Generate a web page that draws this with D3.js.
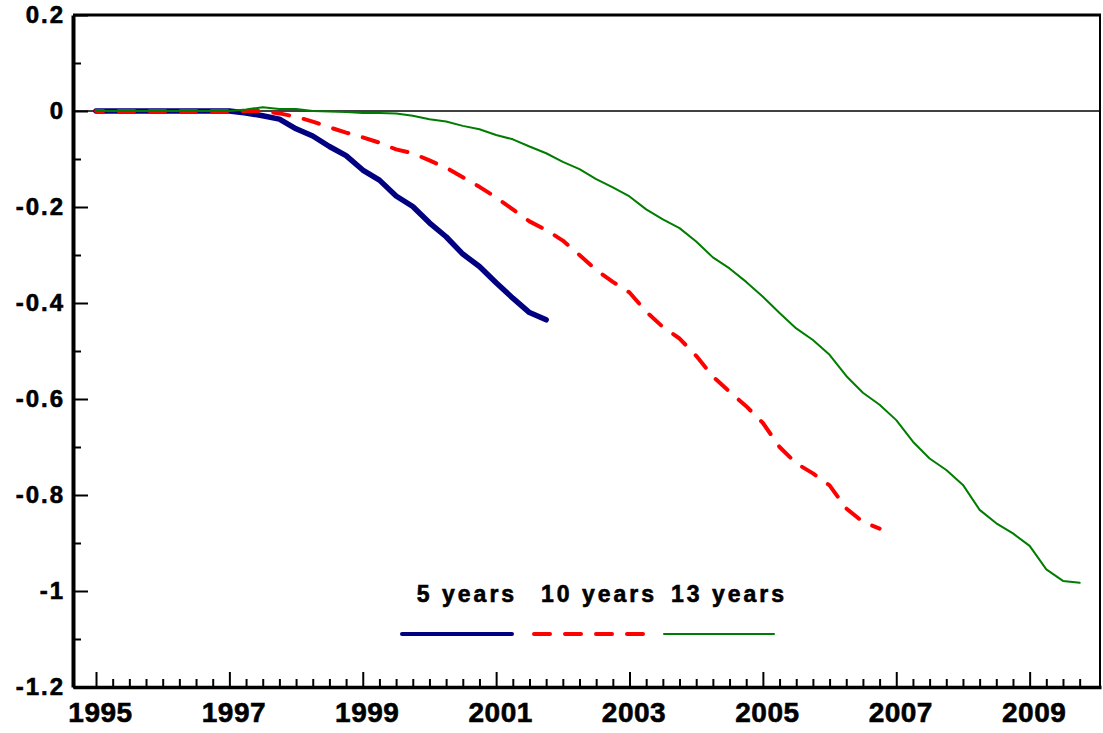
<!DOCTYPE html>
<html>
<head>
<meta charset="utf-8">
<script src="https://cdn.jsdelivr.net/npm/d3@7"></script>
<style>
  body { margin: 0; background: #fff; }
  text { font-family: Arial, "Liberation Sans", sans-serif; font-weight: bold; fill: #000; stroke: #000; stroke-width: 0.6px; }
</style>
</head>
<body>
<script>
// quarterly values, all series start at 1995.0
let startYear = 1995;
let seriesNames = ["5 years", "10 years", "13 years"];
let seriesColors = ["#000080", "#ff0000", "#007d00"];

let fiveYears = [
  0, 0, 0, 0, 0, 0, 0, 0, 0,
  -0.004, -0.01, -0.017, -0.037, -0.052, -0.074, -0.093, -0.123, -0.144, -0.177,
  -0.199, -0.233, -0.262, -0.298, -0.324, -0.358, -0.39, -0.42, -0.435
];
let tenYears = [
  0, 0, 0, 0, 0, 0, 0, 0, 0, 0, 0,
  -0.005, -0.012, -0.022, -0.034, -0.045, -0.055, -0.066, -0.08, -0.088,
  -0.103, -0.118, -0.138, -0.158, -0.18, -0.205, -0.23, -0.248, -0.27, -0.3,
  -0.331, -0.356, -0.378, -0.418, -0.45, -0.474, -0.51, -0.553, -0.585, -0.615,
  -0.65, -0.7, -0.734, -0.755, -0.78, -0.828, -0.856, -0.87
];
let thirteenYears = [
  0, 0, 0, 0, 0, 0, 0, 0, 0,
  0.003, 0.008, 0.004, 0.004, 0, -0.001, -0.002, -0.004, -0.004, -0.005, -0.01,
  -0.017, -0.022, -0.031, -0.038, -0.05, -0.059, -0.074, -0.088, -0.106, -0.121,
  -0.142, -0.159, -0.178, -0.205, -0.226, -0.244, -0.272, -0.305, -0.328, -0.356,
  -0.387, -0.421, -0.453, -0.477, -0.508, -0.552, -0.587, -0.612, -0.644, -0.689,
  -0.724, -0.748, -0.779, -0.831, -0.859, -0.88, -0.906, -0.955, -0.979, -0.983
];

let yTicks = [0.2, 0, -0.2, -0.4, -0.6, -0.8, -1, -1.2];
let yMinorTicks = [0.1, -0.1, -0.3, -0.5, -0.7, -0.9, -1.1];
let xTicks = [1995, 1997, 1999, 2001, 2003, 2005, 2007, 2009];

const width = 1103;
const height = 733;
const plotLeft = 73, plotRight = 1101, plotTop = 15, plotBottom = 687;

var svg = d3.select("body")
  .append("svg")
  .attr("width", width)
  .attr("height", height);

var x = d3.scaleLinear().domain([1994.655, 2010.07]).range([plotLeft, plotRight]);
var y = d3.scaleLinear().domain([-1.2, 0.2]).range([plotBottom, plotTop]);

// quarter ticks on the year axis, minus the labelled ones
var xMinorTicks = [];
for (let q = 1; q < 60; q++) {
  let t = startYear + q / 4;
  if (xTicks.indexOf(t) < 0) xMinorTicks.push(t);
}

var toPoints = function(values) {
  return values.map((v, i) => ({ t: startYear + i / 4, v: v }));
};
var series = [fiveYears, tenYears, thirteenYears].map(toPoints);

var line = d3.line()
  .x(d => x(d.t))
  .y(d => y(d.v));

// frame: top and right
svg.append("line")
  .attr("x1", plotLeft).attr("x2", plotRight)
  .attr("y1", plotTop).attr("y2", plotTop)
  .attr("stroke", "#000").attr("stroke-width", 3);
svg.append("line")
  .attr("x1", plotRight - 1).attr("x2", plotRight - 1)
  .attr("y1", plotTop).attr("y2", plotBottom)
  .attr("stroke", "#000").attr("stroke-width", 2);

// zero line
svg.append("line")
  .attr("x1", plotLeft).attr("x2", plotRight - 1)
  .attr("y1", y(0)).attr("y2", y(0))
  .attr("stroke", "#000").attr("stroke-width", 1.5);

// minor ticks first, then the labelled axes
svg.append("g")
  .attr("transform", `translate(${plotLeft},0)`)
  .call(d3.axisLeft(y).tickValues(yMinorTicks).tickSizeInner(-8).tickSizeOuter(0).tickFormat(""))
  .call(g => g.select(".domain").remove())
  .call(g => g.selectAll(".tick line").attr("stroke-width", 2));

svg.append("g")
  .attr("transform", `translate(0,${plotBottom})`)
  .call(d3.axisBottom(x).tickValues(xMinorTicks).tickSizeInner(-8).tickSizeOuter(0).tickFormat(""))
  .call(g => g.select(".domain").remove())
  .call(g => g.selectAll(".tick line").attr("stroke-width", 2));

var yAxis = svg.append("g")
  .attr("transform", `translate(${plotLeft},0)`)
  .call(d3.axisLeft(y).tickValues(yTicks).tickSizeInner(-15).tickSizeOuter(0).tickPadding(8)
    .tickFormat(d => String(+d.toFixed(1))));
yAxis.select(".domain").attr("stroke-width", 4);
yAxis.selectAll(".tick line").attr("stroke-width", 2);
yAxis.selectAll(".tick text")
  .style("font-size", "24px")
  .style("letter-spacing", "2px")
  .attr("fill", "#000");

var xAxis = svg.append("g")
  .attr("transform", `translate(0,${plotBottom})`)
  .call(d3.axisBottom(x).tickValues(xTicks).tickSizeInner(-15).tickSizeOuter(0).tickPadding(15)
    .tickFormat(d => String(d)));
xAxis.select(".domain").attr("stroke-width", 3.5);
xAxis.selectAll(".tick line").attr("stroke-width", 2);
xAxis.selectAll(".tick text")
  .style("font-size", "28px")
  .style("letter-spacing", "0.5px")
  .attr("dx", "4px")
  .attr("fill", "#000");

// the three curves
var styles = [
  { w: 5.5, dash: null },
  { w: 4, dash: "16 15" },
  { w: 2, dash: null }
];

series.forEach((pts, i) => {
  var p = svg.append("path")
    .datum(pts)
    .attr("d", line)
    .attr("fill", "none")
    .attr("stroke", seriesColors[i])
    .attr("stroke-width", styles[i].w)
    .attr("stroke-dasharray", styles[i].dash)
    .attr("stroke-linecap", "round")
    .attr("stroke-linejoin", "round");
  if (styles[i].dash) {
    // shift the dashes so the curve ends inside a dash
    let len = p.node().getTotalLength();
    let off = ((8 - len) % 31 + 31) % 31;
    p.attr("stroke-dashoffset", off);
  }
});

// legend
var legendX = [402, 534, 664];
var legendLen = 110;
seriesNames.forEach((name, i) => {
  let cx = legendX[i] + legendLen / 2;
  svg.append("text")
    .attr("x", cx + 10)
    .attr("y", 602)
    .attr("text-anchor", "middle")
    .style("font-size", "23px")
    .style("letter-spacing", "3px")
    .text(name);
  svg.append("line")
    .attr("x1", legendX[i]).attr("x2", legendX[i] + legendLen)
    .attr("y1", 634).attr("y2", 634)
    .attr("stroke", seriesColors[i])
    .attr("stroke-width", i == 2 ? 2 : 4)
    .attr("stroke-dasharray", styles[i].dash)
    .attr("stroke-linecap", "round");
});
</script>
</body>
</html>
